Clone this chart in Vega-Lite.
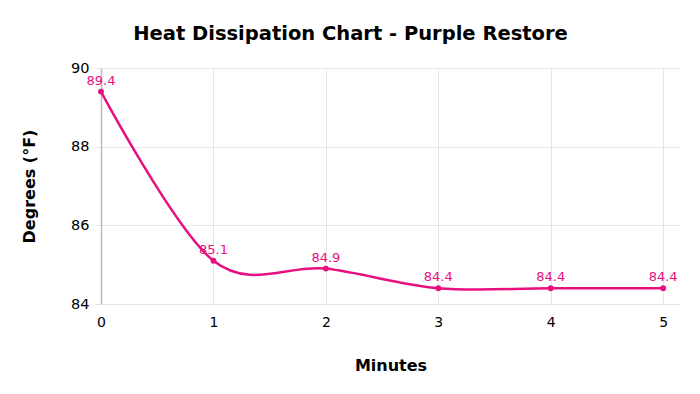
{
  "$schema": "https://vega.github.io/schema/vega-lite/v6.json",
  "autosize": {"type": "none"},
  "width": 579,
  "height": 236,
  "padding": {"left": 101, "top": 68, "right": 20, "bottom": 90},
  "background": "white",
  "title": {
    "text": "Heat Dissipation Chart - Purple Restore",
    "font": "DejaVu Sans",
    "fontSize": 19.5,
    "fontWeight": "bold",
    "color": "#000000",
    "anchor": "middle",
    "frame": "group",
    "dx": -40,
    "offset": 16
  },
  "config": {
    "view": {"stroke": null},
    "font": "DejaVu Sans"
  },
  "data": {
    "values": [
      {"minute": 0, "temp": 89.4},
      {"minute": 1, "temp": 85.1},
      {"minute": 2, "temp": 84.9},
      {"minute": 3, "temp": 84.4},
      {"minute": 4, "temp": 84.4},
      {"minute": 5, "temp": 84.4}
    ]
  },
  "encoding": {
    "x": {
      "field": "minute",
      "type": "quantitative",
      "scale": {"domain": [0, 5.15], "nice": false, "zero": false},
      "axis": {
        "title": "Minutes",
        "values": [0, 1, 2, 3, 4, 5],
        "format": "d",
        "labelFontSize": 14,
        "labelColor": "#000000",
        "labelPadding": 11,
        "labelFlush": false,
        "ticks": false,
        "domain": true,
        "domainColor": "#e6e6e6",
        "gridColor": "#e6e6e6",
        "titleFontSize": 16,
        "titleFontWeight": "bold",
        "titleColor": "#000000",
        "titlePadding": 28,
        "titleX": 289.5
      }
    },
    "y": {
      "field": "temp",
      "type": "quantitative",
      "scale": {"domain": [84, 90], "nice": false, "zero": false},
      "axis": {
        "title": "Degrees (°F)",
        "values": [84, 86, 88, 90],
        "labelFontSize": 14.5,
        "labelColor": "#000000",
        "labelPadding": 6,
        "tickSize": 6,
        "tickColor": "#e6e6e6",
        "domainColor": "#bbbbbb",
        "domainWidth": 1.5,
        "gridColor": "#e6e6e6",
        "titleFontSize": 16,
        "titleFontWeight": "bold",
        "titleColor": "#000000",
        "titlePadding": 33
      }
    }
  },
  "layer": [
    {
      "mark": {"type": "line", "interpolate": "cardinal", "color": "#e8107f", "strokeWidth": 2.5}
    },
    {
      "mark": {"type": "point", "filled": true, "size": 35, "opacity": 1, "color": "#e8107f"}
    },
    {
      "mark": {"type": "text", "dy": -11, "fontSize": 13, "color": "#e8107f"},
      "encoding": {"text": {"field": "temp", "type": "quantitative", "format": ".1f"}}
    }
  ]
}
